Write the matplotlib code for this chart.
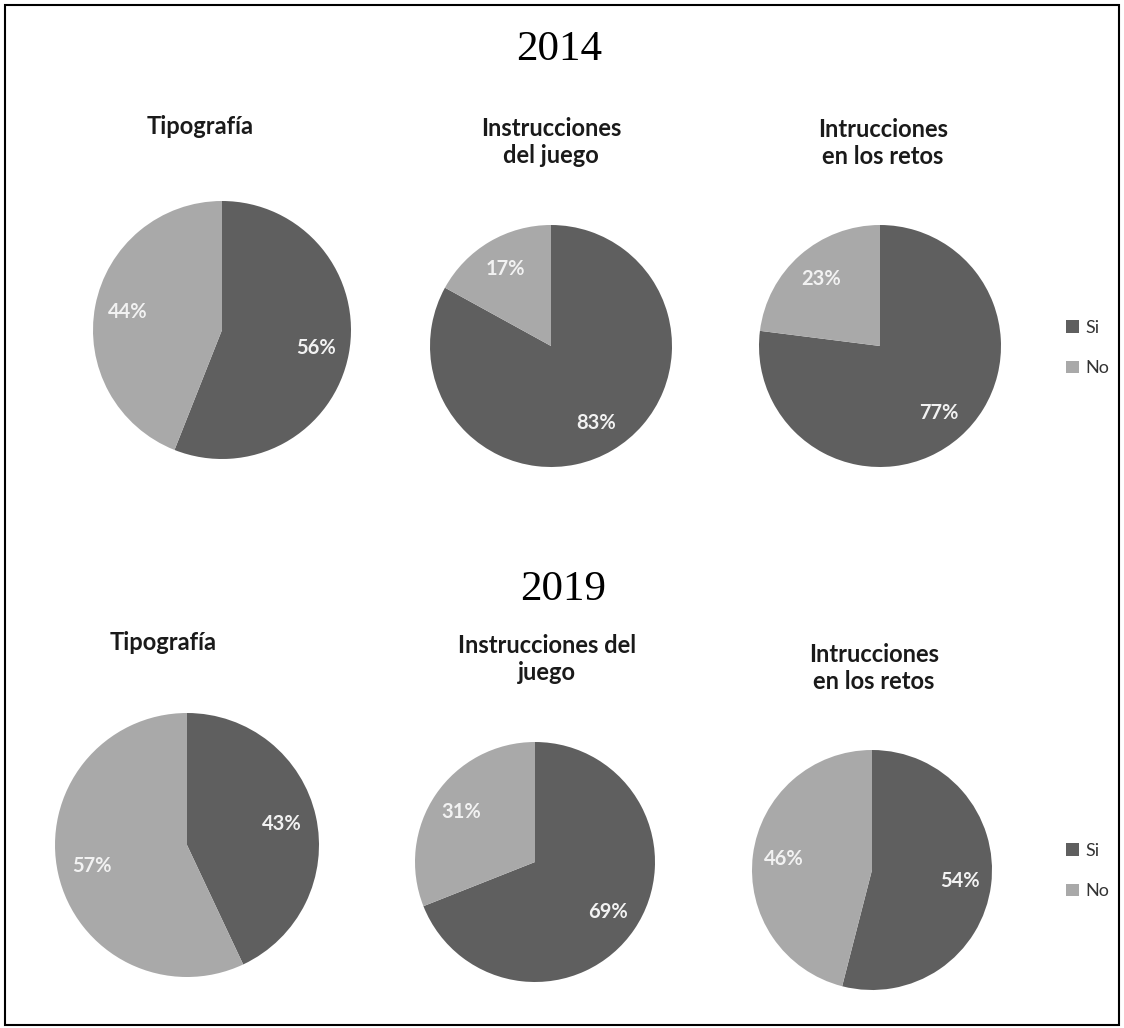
import matplotlib
matplotlib.use("Agg")
import matplotlib.pyplot as plt
from matplotlib.patches import Rectangle, Patch

W, H = 1124, 1028
DARK, LIGHT = "#5f5f5f", "#a9a9a9"
SANS = ["Lato", "DejaVu Sans"]
SERIF = ["Liberation Serif", "DejaVu Serif"]

categories = ["Si", "No"]
years = ["2014", "2019"]
titles_2014 = ["Tipografía", "Instrucciones\ndel juego", "Intrucciones\nen los retos"]
si_2014 = [56, 83, 77]
no_2014 = [44, 17, 23]
titles_2019 = ["Tipografía", "Instrucciones del\njuego", "Intrucciones\nen los retos"]
si_2019 = [43, 69, 54]
no_2019 = [57, 31, 46]

# layout in pixels: pie (centre x, centre y, radius) and subtitle centre (x, y)
pies_2014 = [(222, 330, 129), (551, 346, 121), (880, 346, 121)]
heads_2014 = [(200, 127), (551, 142), (883, 143)]
pies_2019 = [(187, 845, 132), (535, 862, 120), (872, 870, 120)]
heads_2019 = [(163, 643), (547, 659), (874, 668)]

fig = plt.figure(figsize=(W / 100, H / 100), dpi=100)
fig.patch.set_facecolor("white")


def px(x, y):
    return x / W, 1 - y / H


def draw_pie(pie, head, title, si, no):
    cx, cy, r = pie
    ax = fig.add_axes([(cx - r) / W, 1 - (cy + r) / H, 2 * r / W, 2 * r / H])
    ax.pie([si, no], colors=[DARK, LIGHT], startangle=90, counterclock=False,
           radius=1, autopct="%1.0f%%", pctdistance=0.74,
           textprops=dict(color="#f2f2f2", fontsize=14.5, fontweight="bold", family=SANS))
    ax.set_xlim(-1, 1)
    ax.set_ylim(-1, 1)
    ax.set_aspect("equal")
    ax.axis("off")
    fig.text(*px(*head), title, ha="center", va="center", fontsize=17, fontweight="bold",
             family=SANS, color="#1a1a1a", linespacing=1.2)


for pie, head, t, s, n in zip(pies_2014, heads_2014, titles_2014, si_2014, no_2014):
    draw_pie(pie, head, t, s, n)
for pie, head, t, s, n in zip(pies_2019, heads_2019, titles_2019, si_2019, no_2019):
    draw_pie(pie, head, t, s, n)

# year headings
fig.text(*px(559, 50), years[0], ha="center", va="center", fontsize=31, family=SERIF, color="black")
fig.text(*px(563, 590), years[1], ha="center", va="center", fontsize=31, family=SERIF, color="black")

# legends
handles = [Patch(facecolor=c, edgecolor="none") for c in (DARK, LIGHT)]
for ly in (348, 871):
    fig.legend(handles, categories, loc="center left", bbox_to_anchor=px(1066, ly),
               frameon=False, borderpad=0, borderaxespad=0,
               handlelength=0.7, handleheight=0.7, handletextpad=0.35,
               labelspacing=1.35, prop=dict(family=SANS, size=13), labelcolor="#333333")

# outer border
fig.add_artist(Rectangle((5 / W, 3 / H), 1114 / W, 1020 / H, transform=fig.transFigure,
                         fill=False, edgecolor="black", linewidth=1.5))

fig.savefig("out.png", dpi=100)
